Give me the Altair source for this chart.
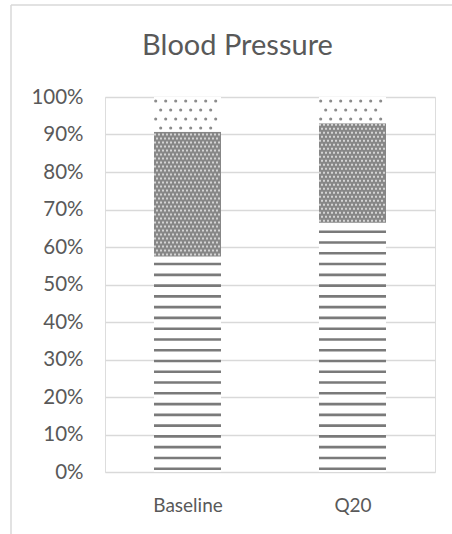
import altair as alt
import pandas as pd
import numpy as np

# Share of patients in each blood-pressure band (percent of the column)
chart_title = "Blood Pressure"
categories = ["Baseline", "Q20"]
band_low = [57.5, 66.5]      # horizontal-stripe segment (bottom)
band_mid = [33.25, 26.5]     # checkerboard segment (middle)
band_high = [9.25, 7.0]      # dotted segment (top)
y_tick_values = [0, 10, 20, 30, 40, 50, 60, 70, 80, 90, 100]

# Layout (pixels)
PLOT_W, PLOT_H = 330, 375
PX_X = PLOT_W / 2.0          # pixels per x unit (two category slots)
PX_Y = PLOT_H / 100.0        # pixels per percent
HALF = 33.5 / PX_X           # half bar width in x units
centers = [i + 0.5 for i in range(len(categories))]

GREY = "#595959"
FONT = "Lato"

# Stacked segment table
rows = []
for c, cat in enumerate(categories):
    lo = 0.0
    for seg, val, fill in (("low", band_low[c], "#ffffff"),
                           ("mid", band_mid[c], "#878787"),
                           ("high", band_high[c], "#ffffff")):
        rows.append(dict(category=cat, x=centers[c] - HALF, x2=centers[c] + HALF,
                         y=lo, y2=lo + val, segment=seg, fill=fill))
        lo += val
seg_df = pd.DataFrame(rows)

# Pattern textures, laid out on a grid anchored to the chart
stripe_rows, check_rows, dot_rows = [], [], []
stripe_step = 10.77 / PX_Y
for c, cat in enumerate(categories):
    left, right = centers[c] - HALF, centers[c] + HALF
    lo_top = band_low[c]
    mid_top = band_low[c] + band_mid[c]
    top = mid_top + band_high[c]

    # horizontal stripes
    y = 3.3 / PX_Y
    while y < lo_top - 0.5:
        stripe_rows.append(dict(category=cat, x=left, x2=right, y=y))
        y += stripe_step

    # fine checkerboard
    step_x, step_y = 4.0 / PX_X, 4.0 / PX_Y
    j = 0
    yy = lo_top + 2.0 / PX_Y
    while yy < mid_top - 0.5 / PX_Y:
        shift = (2.0 / PX_X) if j % 2 else 0.0
        xx = left + 1.0 / PX_X + shift
        while xx < right - 1.0 / PX_X:
            check_rows.append(dict(category=cat, x=xx, y=yy))
            xx += step_x
        yy += step_y
        j += 1

    # sparse dots
    dx, dy = 10.0 / PX_X, 9.0 / PX_Y
    k = 0
    yy = top - 4.0 / PX_Y
    while yy > mid_top + 1.5 / PX_Y:
        shift = (5.0 / PX_X) if k % 2 else 0.0
        xx = left + 1.7 / PX_X + shift
        while xx < right - 1.0 / PX_X:
            dot_rows.append(dict(category=cat, x=xx, y=yy))
            xx += dx
        yy -= dy
        k += 1

stripe_df = pd.DataFrame(stripe_rows)
check_df = pd.DataFrame(check_rows)
dot_df = pd.DataFrame(dot_rows)

x_scale = alt.Scale(domain=[0, len(categories)], nice=False, zero=False)
y_scale = alt.Scale(domain=[0, 100], nice=False)

label_expr = " : ".join(
    f"datum.value == {centers[i]} ? '{categories[i]}'" for i in range(len(categories))
) + " : ''"

x_axis = alt.Axis(values=centers, labelExpr=label_expr, title=None, grid=False,
                  domain=False, ticks=False, labelFontSize=19, labelFont=FONT,
                  labelColor=GREY, labelPadding=24, labelOverlap=False)
y_axis = alt.Axis(values=y_tick_values, labelExpr="datum.value + '%'", title=None,
                  domain=False, ticks=False, labelFontSize=20.5, labelFont=FONT,
                  labelColor=GREY, labelPadding=22, gridColor="#d9d9d9",
                  gridWidth=1.3, labelOverlap=False, labelBound=False,
                  labelFlush=False)

X = alt.X("x:Q", scale=x_scale, axis=x_axis)
Y = alt.Y("y:Q", scale=y_scale, axis=y_axis)

bars = alt.Chart(seg_df).mark_rect().encode(
    x=X, x2="x2:Q", y=Y, y2="y2:Q",
    fill=alt.Fill("fill:N", scale=None),
)

stripes = alt.Chart(stripe_df).mark_rule(color="#7a7a7a", strokeWidth=2.6).encode(
    x=X, x2="x2:Q", y=Y
)

checks = alt.Chart(check_df).mark_square(color="#d4d4d4", size=4, opacity=1).encode(
    x=X, y=Y
)

dots = alt.Chart(dot_df).mark_circle(color="#8c8c8c", size=10, opacity=1).encode(
    x=X, y=Y
)

# Chart title, centred over the chart area
title_text = alt.Chart(pd.DataFrame({"t": [chart_title]})).mark_text(
    font=FONT, fontSize=29, color=GREY, align="center", baseline="alphabetic"
).encode(x=alt.value(132.5), y=alt.value(-42), text="t:N")

# Light frame around the chart area (left and top edges)
frame_src = pd.DataFrame({"k": [0]})
frame_left = alt.Chart(frame_src).mark_rule(color="#d9d9d9", strokeWidth=1.5).encode(
    x=alt.value(-94), y=alt.value(-92), y2=alt.value(440)
)
frame_top = alt.Chart(frame_src).mark_rule(color="#d9d9d9", strokeWidth=1.5).encode(
    x=alt.value(-94), x2=alt.value(350), y=alt.value(-92)
)

chart = alt.layer(bars, frame_left, frame_top, stripes, checks, dots, title_text).properties(
    width=PLOT_W,
    height=PLOT_H,
    padding={"left": 105, "top": 97, "right": 17, "bottom": 62},
    autosize=alt.AutoSizeParams(type="none"),
).configure_view(strokeWidth=0).configure(background="white")

chart.save("out.html", embed_options={"renderer": "svg", "actions": False})
